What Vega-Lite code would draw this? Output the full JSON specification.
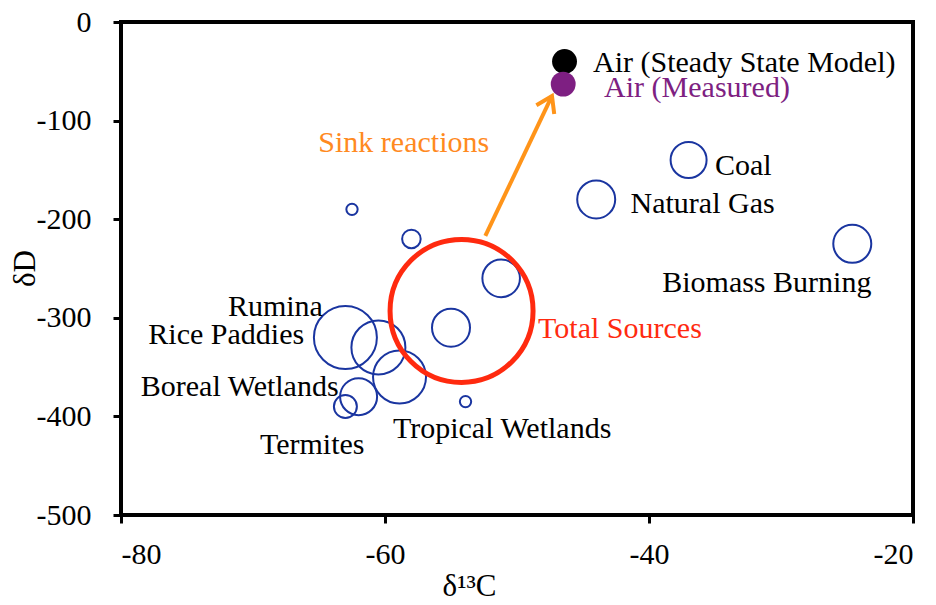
{
  "$schema": "https://vega.github.io/schema/vega-lite/v6.json",
  "width": 792,
  "height": 493,
  "autosize": {"type": "none"},
  "padding": {"left": 121, "top": 22, "right": 23, "bottom": 90},
  "background": "white",
  "config": {
    "font": "Liberation Serif",
    "view": {"stroke": "black", "strokeWidth": 4},
    "axis": {
      "domain": false,
      "grid": false,
      "ticks": true,
      "tickColor": "black",
      "tickWidth": 3,
      "tickSize": 8,
      "labelFont": "Liberation Serif",
      "labelFontSize": 30,
      "labelColor": "black",
      "labelExpr": "'' + datum.value",
      "titleFont": "Liberation Serif",
      "titleFontSize": 31,
      "titleFontWeight": "normal",
      "titleColor": "black"
    }
  },
  "datasets": {
    "sources": [
      {"name": "Other A", "d13C": -62.5, "dD": -190, "flux": 32},
      {"name": "Other B", "d13C": -58.0, "dD": -220, "flux": 86},
      {"name": "Other C", "d13C": -51.2, "dD": -260, "flux": 353},
      {"name": "Other D", "d13C": -55.0, "dD": -310, "flux": 361},
      {"name": "Rumina", "d13C": -63.0, "dD": -320, "flux": 992},
      {"name": "Rice Paddies", "d13C": -60.5, "dD": -330, "flux": 729},
      {"name": "Other E", "d13C": -58.9, "dD": -360, "flux": 702},
      {"name": "Boreal Wetlands", "d13C": -62.0, "dD": -380, "flux": 342},
      {"name": "Termites", "d13C": -63.0, "dD": -390, "flux": 132},
      {"name": "Tropical Wetlands", "d13C": -53.9, "dD": -385, "flux": 32},
      {"name": "Coal", "d13C": -37.0, "dD": -140, "flux": 324},
      {"name": "Natural Gas", "d13C": -44.0, "dD": -180, "flux": 361},
      {"name": "Biomass Burning", "d13C": -24.6, "dD": -225, "flux": 361}
    ],
    "total": [
      {"name": "Total Sources", "d13C": -54.2, "dD": -293, "flux": 5112}
    ],
    "air": [
      {"name": "Air (Steady State Model)", "role": "model", "d13C": -46.4, "dD": -40},
      {"name": "Air (Measured)", "role": "measured", "d13C": -46.5, "dD": -63}
    ],
    "sink": [
      {"end": "tail", "d13C": -52.4, "dD": -217},
      {"end": "head", "d13C": -47.35, "dD": -75}
    ],
    "labels": [
      {"text": "Air (Steady State Model)", "role": "model", "d13C": -44.24, "dD": -50.7},
      {"text": "Air (Measured)", "role": "measured", "d13C": -43.4, "dD": -76},
      {"text": "Coal", "role": "source", "d13C": -35.0, "dD": -155},
      {"text": "Natural Gas", "role": "source", "d13C": -41.4, "dD": -194},
      {"text": "Biomass Burning", "role": "source", "d13C": -39.0, "dD": -273.5},
      {"text": "Sink reactions", "role": "sink", "d13C": -65.05, "dD": -131.5},
      {"text": "Total Sources", "role": "total", "d13C": -48.4, "dD": -320.5},
      {"text": "Rumina", "role": "source", "d13C": -71.9, "dD": -298.2},
      {"text": "Rice Paddies", "role": "source", "d13C": -77.93, "dD": -326.6},
      {"text": "Boreal Wetlands", "role": "source", "d13C": -78.5, "dD": -379.3},
      {"text": "Termites", "role": "source", "d13C": -69.47, "dD": -438},
      {"text": "Tropical Wetlands", "role": "source", "d13C": -59.4, "dD": -421.9}
    ]
  },
  "layer": [
    {
      "data": {"name": "sources"},
      "mark": {"type": "point", "shape": "circle", "filled": false, "stroke": "#1a35a0", "strokeWidth": 2, "opacity": 1},
      "encoding": {
        "x": {
          "field": "d13C", "type": "quantitative",
          "scale": {"domain": [-80, -20], "nice": false, "zero": false},
          "axis": {"values": [-80, -60, -40, -20], "title": "δ¹³C", "labelPadding": 16, "titleX": 348, "titleY": 80, "titleBaseline": "alphabetic", "titleAlign": "center"}
        },
        "y": {
          "field": "dD", "type": "quantitative",
          "scale": {"domain": [-500, 0], "nice": false, "zero": false},
          "axis": {"values": [0, -100, -200, -300, -400, -500], "title": "δD", "labelPadding": 22, "titleX": -96, "titleY": 246, "titleBaseline": "middle", "titleAlign": "center", "titleAngle": -90}
        },
        "size": {"field": "flux", "type": "quantitative", "scale": {"domain": [0, 1000], "range": [0, 4000]}, "legend": null}
      }
    },
    {
      "data": {"name": "total"},
      "mark": {"type": "point", "shape": "circle", "filled": false, "stroke": "#ff2a0f", "strokeWidth": 5, "opacity": 1},
      "encoding": {
        "x": {"field": "d13C", "type": "quantitative"},
        "y": {"field": "dD", "type": "quantitative"},
        "size": {"field": "flux", "type": "quantitative", "scale": {"domain": [0, 1000], "range": [0, 4000]}, "legend": null}
      }
    },
    {
      "data": {"name": "sink"},
      "mark": {"type": "line", "stroke": "#ff9419", "strokeWidth": 4},
      "encoding": {
        "x": {"field": "d13C", "type": "quantitative"},
        "y": {"field": "dD", "type": "quantitative"},
        "order": {"field": "end", "sort": "descending"}
      }
    },
    {
      "data": {"name": "sink"},
      "transform": [{"filter": "datum.end === 'head'"}],
      "mark": {"type": "point", "shape": "M-0.75,1.15L0,0L0.75,1.15", "filled": false, "stroke": "#ff9419", "strokeWidth": 4, "size": 700, "angle": 26, "opacity": 1, "strokeJoin": "miter"},
      "encoding": {
        "x": {"field": "d13C", "type": "quantitative"},
        "y": {"field": "dD", "type": "quantitative"}
      }
    },
    {
      "data": {"name": "air"},
      "mark": {"type": "point", "shape": "circle", "filled": true, "size": 620, "opacity": 1},
      "encoding": {
        "x": {"field": "d13C", "type": "quantitative"},
        "y": {"field": "dD", "type": "quantitative"},
        "color": {
          "field": "role", "type": "nominal",
          "scale": {"domain": ["source", "model", "measured", "sink", "total"], "range": ["black", "black", "#7e1f82", "#ff8a1f", "#ff2a0f"]},
          "legend": null
        }
      }
    },
    {
      "data": {"name": "labels"},
      "mark": {"type": "text", "align": "left", "baseline": "alphabetic", "fontSize": 30, "font": "Liberation Serif"},
      "encoding": {
        "x": {"field": "d13C", "type": "quantitative"},
        "y": {"field": "dD", "type": "quantitative"},
        "text": {"field": "text"},
        "color": {"field": "role", "type": "nominal", "legend": null}
      }
    }
  ]
}
